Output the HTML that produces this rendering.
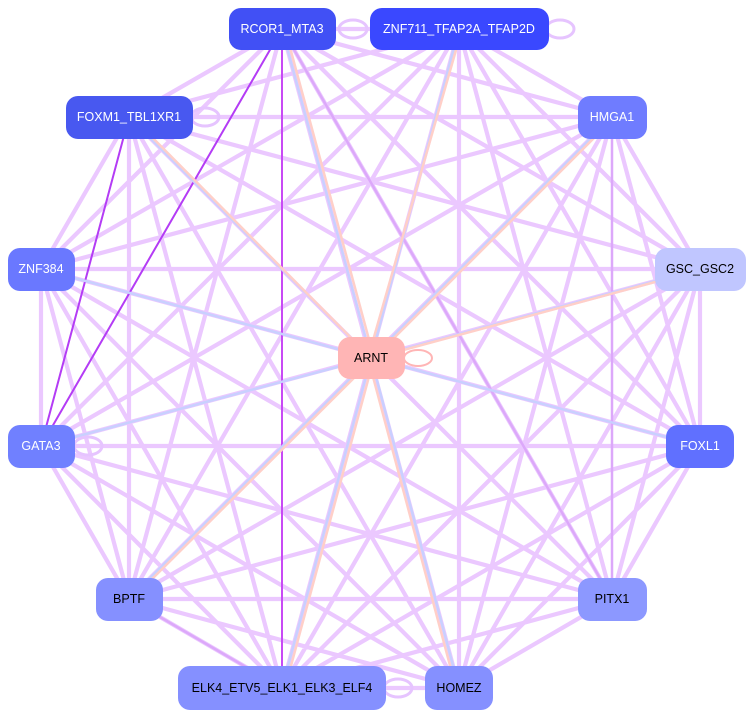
<!DOCTYPE html>
<html><head><meta charset="utf-8"><style>html,body{margin:0;padding:0;background:#fff}svg{display:block}text{font-family:"Liberation Sans",sans-serif;font-size:12.5px}</style></head><body>
<svg width="754" height="718" viewBox="0 0 754 718" xmlns="http://www.w3.org/2000/svg">
<path fill="none" stroke="#ebc8ff" stroke-width="4.2" d="M282 29L459 29M282 29L129 117M282 29L612 117M282 29L41 269M282 29L700 269M282 29L700 446M282 29L129 599M282 29L612 599M282 29L459 688M459 29L129 117M459 29L612 117M459 29L41 269M459 29L700 269M459 29L41 446M459 29L700 446M459 29L129 599M459 29L612 599M459 29L282 688M459 29L459 688M129 117L612 117M129 117L41 269M129 117L700 269M129 117L700 446M129 117L129 599M129 117L612 599M129 117L282 688M129 117L459 688M612 117L41 269M612 117L700 269M612 117L41 446M612 117L700 446M612 117L129 599M612 117L282 688M612 117L459 688M41 269L700 269M41 269L41 446M41 269L700 446M41 269L129 599M41 269L612 599M41 269L282 688M41 269L459 688M700 269L41 446M700 269L700 446M700 269L129 599M700 269L612 599M700 269L282 688M700 269L459 688M41 446L700 446M41 446L129 599M41 446L612 599M41 446L282 688M41 446L459 688M700 446L129 599M700 446L612 599M700 446L282 688M700 446L459 688M129 599L612 599M129 599L282 688M129 599L459 688M612 599L282 688M612 599L459 688M282 688L459 688"/>
<path fill="none" stroke="#dca8fa" stroke-width="2.5" d="M612 117L612 599M282 29L612 599M129 599L282 688"/>
<path fill="none" stroke="#b43cf5" stroke-width="2" d="M282 29L41 446M129 117L41 446"/>
<path fill="none" stroke="#c84af5" stroke-width="2" d="M282 29L282 688"/>
<path fill="none" stroke="#c9d0ff" stroke-width="2.5" d="M459 29L371 358M129 117L371 358M41 269L371 358M41 446L371 358M700 446L371 358M700 269L371 358M612 117L371 358M129 599L371 358M282 688L371 358M459 688L371 358M282 29L371 358"/>
<path fill="none" stroke="#ffcfc8" stroke-width="2.5" d="M285 29L374 358M462 29L368 358M132 117L371 358M615 117L374 358M703 269L374 358M132 599L374 358M285 688L374 358M456 688L368 358"/>
<ellipse cx="418" cy="358" rx="14" ry="8" fill="none" stroke="#ffb5b5" stroke-width="2"/>
<ellipse cx="560" cy="29" rx="14" ry="9" fill="none" stroke="#e6c4ff" stroke-width="3"/>
<ellipse cx="205" cy="117" rx="14" ry="9" fill="none" stroke="#e6c4ff" stroke-width="3"/>
<ellipse cx="88" cy="446" rx="14" ry="9" fill="none" stroke="#e6c4ff" stroke-width="3"/>
<ellipse cx="398" cy="688" rx="14" ry="9" fill="none" stroke="#e6c4ff" stroke-width="3"/>
<ellipse cx="353" cy="29" rx="14" ry="9" fill="none" stroke="#e6c4ff" stroke-width="3"/>
<g>
<rect x="229" y="8" width="107" height="42" rx="12" fill="#4150f5"/><text x="282" y="33" text-anchor="middle" fill="#fff">RCOR1_MTA3</text>
<rect x="370" y="8" width="179" height="42" rx="12" fill="#3a48ff"/><text x="459" y="33" text-anchor="middle" fill="#fff">ZNF711_TFAP2A_TFAP2D</text>
<rect x="66" y="96" width="127" height="43" rx="12" fill="#4858f0"/><text x="129" y="121" text-anchor="middle" fill="#fff">FOXM1_TBL1XR1</text>
<rect x="578" y="96" width="69" height="43" rx="12" fill="#6f7cff"/><text x="612" y="121" text-anchor="middle" fill="#fff">HMGA1</text>
<rect x="8" y="248" width="67" height="43" rx="12" fill="#6a78ff"/><text x="41" y="273" text-anchor="middle" fill="#fff">ZNF384</text>
<rect x="655" y="248" width="91" height="43" rx="12" fill="#c0c6ff"/><text x="700" y="273" text-anchor="middle" fill="#000">GSC_GSC2</text>
<rect x="338" y="337" width="67" height="42" rx="12" fill="#ffb5b5"/><text x="371" y="362" text-anchor="middle" fill="#000">ARNT</text>
<rect x="8" y="425" width="67" height="43" rx="12" fill="#7080ff"/><text x="41" y="450" text-anchor="middle" fill="#fff">GATA3</text>
<rect x="666" y="425" width="68" height="43" rx="12" fill="#6070ff"/><text x="700" y="450" text-anchor="middle" fill="#fff">FOXL1</text>
<rect x="96" y="578" width="67" height="43" rx="12" fill="#8590ff"/><text x="129" y="603" text-anchor="middle" fill="#000">BPTF</text>
<rect x="578" y="578" width="69" height="43" rx="12" fill="#8c98ff"/><text x="612" y="603" text-anchor="middle" fill="#000">PITX1</text>
<rect x="178" y="666" width="208" height="44" rx="12" fill="#8590ff"/><text x="282" y="692" text-anchor="middle" fill="#000">ELK4_ETV5_ELK1_ELK3_ELF4</text>
<rect x="425" y="666" width="68" height="44" rx="12" fill="#8590ff"/><text x="459" y="692" text-anchor="middle" fill="#000">HOMEZ</text>
</g>
</svg>
</body></html>
